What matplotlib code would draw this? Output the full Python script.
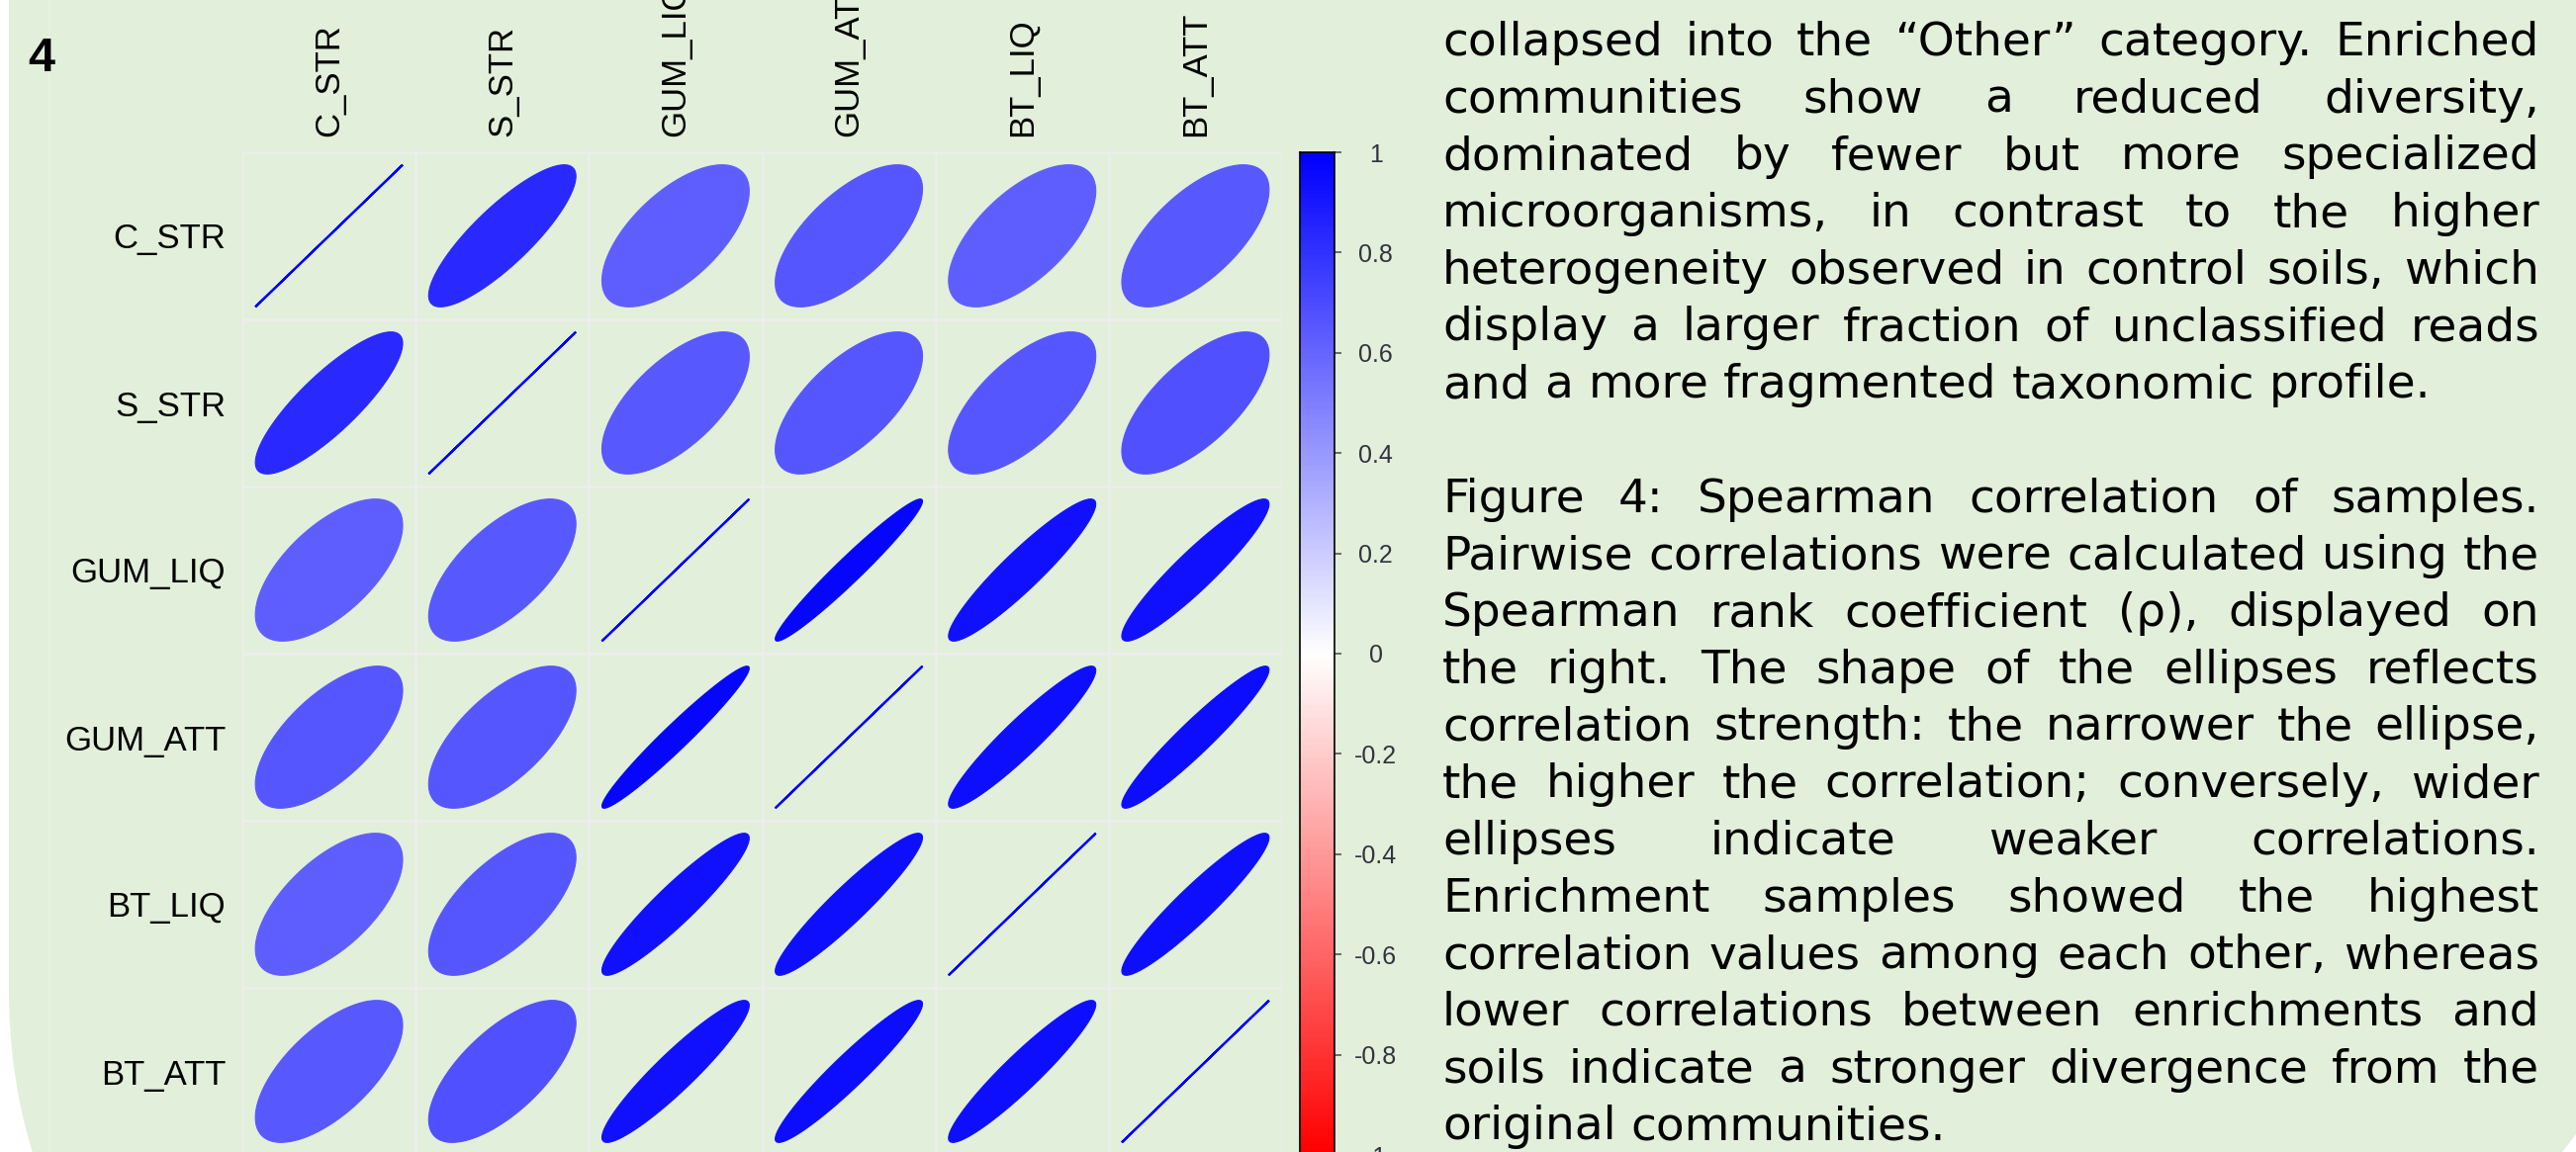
import numpy as np
import matplotlib
matplotlib.use('Agg')
import matplotlib.pyplot as plt
from matplotlib.colors import LinearSegmentedColormap, Normalize
from matplotlib.patches import Polygon
from matplotlib.lines import Line2D

# ---- data -------------------------------------------------------------
samples = ['C_STR', 'S_STR', 'GUM_LIQ', 'GUM_ATT', 'BT_LIQ', 'BT_ATT']

rho = np.array([
    [1.00, 0.84, 0.63, 0.66, 0.63, 0.65],
    [0.84, 1.00, 0.65, 0.66, 0.66, 0.68],
    [0.63, 0.65, 1.00, 0.97, 0.93, 0.93],
    [0.66, 0.66, 0.97, 1.00, 0.94, 0.95],
    [0.63, 0.66, 0.93, 0.94, 1.00, 0.94],
    [0.65, 0.68, 0.93, 0.95, 0.94, 1.00],
])

cbar_ticks = [1, 0.8, 0.6, 0.4, 0.2, 0, -0.2, -0.4, -0.6, -0.8, -1]
cbar_labels = ['1', '0.8', '0.6', '0.4', '0.2', '0', '-0.2', '-0.4', '-0.6', '-0.8', '-1']

panel_number = '4'

para1 = [
    'collapsed into the \u201cOther\u201d category. Enriched',
    'communities show a reduced diversity,',
    'dominated by fewer but more specialized',
    'microorganisms, in contrast to the higher',
    'heterogeneity observed in control soils, which',
    'display a larger fraction of unclassified reads',
    'and a more fragmented taxonomic profile.',
]
para2 = [
    'Figure 4: Spearman correlation of samples.',
    'Pairwise correlations were calculated using the',
    'Spearman rank coefficient (\u03c1), displayed on',
    'the right. The shape of the ellipses reflects',
    'correlation strength: the narrower the ellipse,',
    'the higher the correlation; conversely, wider',
    'ellipses indicate weaker correlations.',
    'Enrichment samples showed the highest',
    'correlation values among each other, whereas',
    'lower correlations between enrichments and',
    'soils indicate a stronger divergence from the',
    'original communities.',
]

# ---- layout -----------------------------------------------------------
W, H, DPI = 2604, 1165, 100
BG = '#E2EFDA'
GRID = '#EDEDED'
body_font = ['DejaVu Sans']

plt.rcParams['font.family'] = ['Liberation Sans', 'DejaVu Sans']

def fx(px):
    return px / W

def fy(py):
    return 1 - py / H

fig = plt.figure(figsize=(W / DPI, H / DPI), dpi=DPI, facecolor='white')

# green slide panel (rounded bottom-left, clipped bottom-right)
t = np.linspace(0, np.pi / 2, 40)
cx, cy, rx, ry = 9 + 145, 1000, 145, 300
arc_x = cx - rx * np.cos(t)
arc_y = cy + ry * np.sin(t)
keep = arc_y <= H
arc = list(zip(arc_x[keep], arc_y[keep]))
pts = [(9, 0), (W, 0), (W, 1147), (2590, H)]
pts += [(cx - rx * np.sqrt(1 - ((H - cy) / ry) ** 2), H)]
pts += arc[::-1]
fig.add_artist(Polygon([(fx(x), fy(y)) for x, y in pts], closed=True,
                       transform=fig.transFigure, facecolor=BG,
                       edgecolor='none', zorder=-2))
fig.add_artist(Line2D([fx(49), fx(49)], [0, 1], transform=fig.transFigure,
                      color='#EAF3E5', lw=1, zorder=-1))

# ---- correlation ellipses --------------------------------------------
cmap = LinearSegmentedColormap.from_list('rwb', ['#FF0000', '#FFFFFF', '#0000FF'])
norm = Normalize(-1, 1)

gx0, gx1, gy0, gy1 = 245, 1296, 154, 1168
ax = fig.add_axes([fx(gx0), fy(gy1), (gx1 - gx0) / W, (gy1 - gy0) / H])
ax.patch.set_visible(False)
n = len(samples)
ax.set_xlim(0.5, n + 0.5)
ax.set_ylim(n + 0.5, 0.5)

for v in np.arange(0.5, n + 1):
    ax.axvline(v, color=GRID, lw=2.0, zorder=1)
    ax.axhline(v, color=GRID, lw=2.0, zorder=1)

k = np.linspace(0, 2 * np.pi, 99)
for i in range(n):
    for j in range(n):
        r = rho[i, j]
        a = np.arccos(np.clip(r, -1, 1)) / 2
        ex = np.cos(k + a) / 2 * 0.85
        ey = np.cos(k - a) / 2 * 0.85
        col = cmap(norm(r))
        lw = 1.6 if i == j else 0.8
        ax.add_patch(Polygon(np.column_stack([j + 1 + ex, i + 1 - ey]),
                             closed=True, facecolor=col, edgecolor=col,
                             lw=lw, zorder=2))

for s in ax.spines.values():
    s.set_visible(False)
ax.xaxis.tick_top()
ax.set_xticks(range(1, n + 1))
ax.set_xticklabels(samples, rotation=90)
ax.set_yticks(range(1, n + 1))
ax.set_yticklabels(samples)
ax.tick_params(axis='x', length=0, pad=11.5, labelsize=25, colors='black')
ax.tick_params(axis='y', length=0, pad=12.2, labelsize=25, colors='black')

# ---- colour legend ----------------------------------------------------
cax = fig.add_axes([fx(1314), fy(gy1), 35 / W, (gy1 - gy0) / H])
grad = np.linspace(-1, 1, 400).reshape(-1, 1)
cax.imshow(grad, cmap=cmap, norm=norm, aspect='auto', origin='lower',
           extent=[0, 1, -1, 1])
cax.set_xlim(0, 1)
cax.set_ylim(-1, 1)
cax.set_xticks([])
cax.yaxis.tick_right()
cax.set_yticks(cbar_ticks)
cax.set_yticklabels(cbar_labels)
cax.tick_params(axis='y', length=5, width=1.2, color='#555555', pad=25,
                labelsize=18, labelcolor='#333340')
for lab in cax.get_yticklabels():
    lab.set_ha('center')
for s in cax.spines.values():
    s.set_color('black')
    s.set_linewidth(1.2)

# panel number
fig.text(fx(28), fy(72), panel_number, fontsize=35, weight='bold',
         family=['Liberation Sans Narrow', 'Liberation Sans', 'DejaVu Sans'],
         ha='left', va='baseline')

# ---- justified caption text -------------------------------------------
renderer = fig.canvas.get_renderer()

def text_width(s, size):
    tt = fig.text(0, 0, s, fontsize=size, family=body_font)
    w = tt.get_window_extent(renderer).width
    tt.remove()
    return w

left, right = 1458, 2567
avail = right - left
lines = [(l, i == len(para1) - 1) for i, l in enumerate(para1)] + [(None, True)] + \
        [(l, i == len(para2) - 1) for i, l in enumerate(para2)]

ref_size = 20
natural = [text_width(l, ref_size) for l, last in lines if l and not last]
size = min(40, ref_size * avail * 0.995 / max(natural))
space = text_width('x x', size) - text_width('xx', size)

for idx, (line, last) in enumerate(lines):
    if line is None:
        continue
    base = 56 + 57.7 * idx
    words = line.split(' ')
    widths = [text_width(w, size) for w in words]
    if last or len(words) == 1:
        gap = space
    else:
        gap = (avail - sum(widths)) / (len(words) - 1)
    x = left
    for w, wd in zip(words, widths):
        fig.text(fx(x), fy(base), w, fontsize=size, family=body_font,
                 color='black', ha='left', va='baseline')
        x += wd + gap

fig.savefig('out.png', dpi=DPI, facecolor=fig.get_facecolor())
